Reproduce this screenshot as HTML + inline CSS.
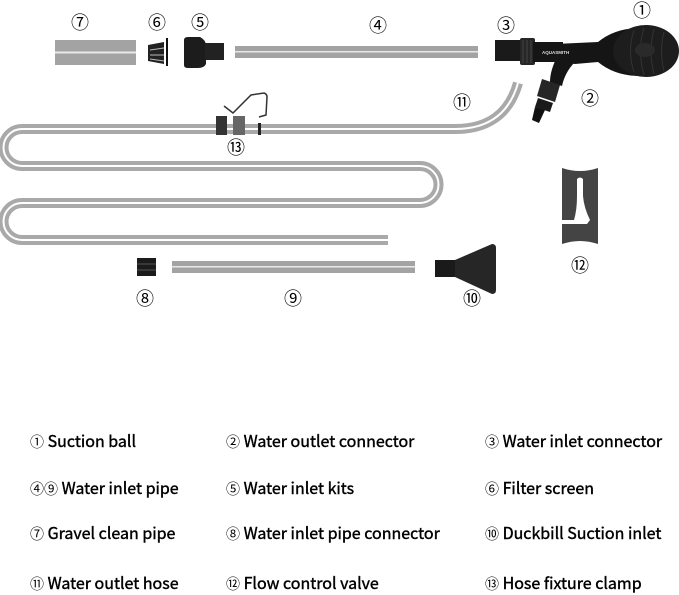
<!DOCTYPE html>
<html><head><meta charset="utf-8"><style>
body{margin:0;width:679px;height:595px;background:#fff;overflow:hidden;position:relative;font-family:"Noto Sans CJK JP","Liberation Sans",sans-serif;color:#000}
svg{position:absolute;left:0;top:0}
.l{position:absolute;font-size:16px;line-height:20px;white-space:nowrap;font-weight:400;-webkit-text-stroke:0.4px #000}
.l span{font-size:14px;-webkit-text-stroke:0}
.n{position:absolute;font-size:18px;line-height:20px;transform:translate(-50%,-50%)}
</style></head><body>
<svg width="679" height="595" viewBox="0 0 679 595">
<path d="M518 83 Q505 129 455 129 L22 129 A18.5 18.5 0 0 0 22 166 L420 166 A18.5 18.5 0 0 1 420 203 L22 203 A18.5 18.5 0 0 0 22 240 L388 240" fill="none" stroke="#a9a9a9" stroke-width="10"/>
<path d="M518 83 Q505 129 455 129 L22 129 A18.5 18.5 0 0 0 22 166 L420 166 A18.5 18.5 0 0 1 420 203 L22 203 A18.5 18.5 0 0 0 22 240 L388 240" fill="none" stroke="#fff" stroke-width="2"/>
<rect x="216" y="116" width="11" height="19" fill="#333"/>
<rect x="233" y="116" width="12" height="19" fill="#666"/>
<rect x="258" y="123" width="3" height="12" fill="#222"/>
<path d="M224 106 L233 113 L251 95 L264 93 Q267 94 267 97 L266 115 L259 117" fill="none" stroke="#333" stroke-width="1.5"/>
<rect x="55" y="40" width="81" height="25" fill="#a3a3a3"/>
<rect x="55" y="51.5" width="81" height="2" fill="#e8e8e8"/>
<path d="M148 45 L164 42 L164 64 L148 61 Z" fill="#222"/>
<path d="M150 50 L164 48 M150 55 L164 55 M150 59 L164 61" stroke="#bbb" stroke-width="1"/>
<rect x="166" y="38" width="2" height="28" fill="#111"/>
<path d="M184 40 Q184 37 188 37 L200 37 Q206 40 206 46 L206 64 Q204 68 198 68 L188 68 Q184 68 184 65 Z" fill="#1c1c1c"/>
<rect x="205" y="43" width="19" height="17" fill="#222"/>
<rect x="235" y="46" width="243" height="12" fill="#a3a3a3"/>
<rect x="235" y="51" width="243" height="1.5" fill="#e8e8e8"/>
<path d="M555 44 L598 42 Q615 28 640 28 Q675 28 678 50 Q675 76 640 76 Q615 76 598 62 L575 64 L560 62 Z" fill="#151515"/>
<ellipse cx="646" cy="51" rx="33" ry="26" fill="#1d1d1d"/>
<path d="M634 30 Q627 51 634 72 M644 28 Q637 51 644 75 M654 29 Q648 51 654 74 M664 32 Q659 51 664 71" stroke="#333" stroke-width="1" fill="none"/>
<ellipse cx="645" cy="50" rx="10" ry="7" fill="#2a2a2a"/>
<rect x="495" y="40" width="30" height="21" fill="#1a1a1a"/>
<rect x="520" y="38" width="15" height="27" rx="2" fill="#262626"/>
<path d="M523 40 V63 M527 40 V63 M531 40 V63" stroke="#444" stroke-width="1"/>
<rect x="533" y="42" width="30" height="20" fill="#151515"/>
<path d="M558 55 Q550 70 550 82 L562 86 Q565 72 575 62 Z" fill="#151515"/>
<path d="M542 79 L560 85 L555 102 L537 96 Z" fill="#262626"/>
<path d="M538 98 L553 103 L550 112 L535 107 Z" fill="#1a1a1a"/>
<path d="M535 107 L545 110 L539 123 L532 120 Z" fill="#111"/>
<text x="542" y="54" font-family="Liberation Sans,sans-serif" font-size="4.5" font-weight="bold" fill="#ddd">AQUASMITH</text>
<rect x="137" y="258" width="19" height="18" fill="#1b1b1b"/>
<path d="M137 264 H156 M137 270 H156" stroke="#555" stroke-width="1"/>
<rect x="172" y="261" width="243" height="12" fill="#a3a3a3"/>
<rect x="172" y="266" width="243" height="1.5" fill="#e8e8e8"/>
<rect x="435" y="260" width="26" height="17" fill="#1a1a1a"/>
<path d="M455 260 L492 244 Q496 244 496 248 L496 290 Q496 294 492 294 L455 277 Z" fill="#262626"/>
<path d="M562 168 Q580 174 598 168 L598 244 Q580 238 562 244 Z" fill="#444"/>
<path d="M577 179 Q580 176 583 179 L583 196 Q584 208 590 220 L587 224 L562 224 L562 220 L574 220 Q577 210 577 196 Z" fill="#fff"/>
</svg>
<div class="n" style="left:80px;top:22px">⑦</div>
<div class="n" style="left:157px;top:22px">⑥</div>
<div class="n" style="left:200px;top:22px">⑤</div>
<div class="n" style="left:378px;top:25px">④</div>
<div class="n" style="left:506px;top:25px">③</div>
<div class="n" style="left:642px;top:10px">①</div>
<div class="n" style="left:590px;top:98px">②</div>
<div class="n" style="left:462px;top:102px">⑪</div>
<div class="n" style="left:236px;top:147px">⑬</div>
<div class="n" style="left:145px;top:298px">⑧</div>
<div class="n" style="left:293px;top:298px">⑨</div>
<div class="n" style="left:472px;top:298px">⑩</div>
<div class="n" style="left:580px;top:265px">⑫</div>

<div class="l" style="left:30px;top:430px"><span>①</span> Suction ball</div>
<div class="l" style="left:226px;top:430px"><span>②</span> Water outlet connector</div>
<div class="l" style="left:485px;top:430px"><span>③</span> Water inlet connector</div>
<div class="l" style="left:30px;top:477px"><span>④⑨</span> Water inlet pipe</div>
<div class="l" style="left:226px;top:477px"><span>⑤</span> Water inlet kits</div>
<div class="l" style="left:485px;top:477px"><span>⑥</span> Filter screen</div>
<div class="l" style="left:30px;top:522px"><span>⑦</span> Gravel clean pipe</div>
<div class="l" style="left:226px;top:522px"><span>⑧</span> Water inlet pipe connector</div>
<div class="l" style="left:485px;top:522px"><span>⑩</span> Duckbill Suction inlet</div>
<div class="l" style="left:30px;top:572px"><span>⑪</span> Water outlet hose</div>
<div class="l" style="left:226px;top:572px"><span>⑫</span> Flow control valve</div>
<div class="l" style="left:485px;top:572px"><span>⑬</span> Hose fixture clamp</div>
</body></html>
